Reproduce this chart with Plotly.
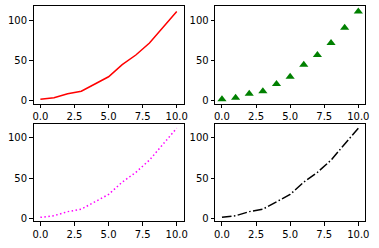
import plotly.graph_objects as go

x = [0, 1, 2, 3, 4, 5, 6, 7, 8, 9, 10]
y = [2, 4, 9, 12, 21, 30, 45, 57, 72, 91, 111]
xticks = [0, 2.5, 5, 7.5, 10]
xticktext = ["0.0", "2.5", "5.0", "7.5", "10.0"]
yticks = [0, 50, 100]
yticktext = ["0", "50", "100"]

fig = go.Figure()
fig.add_trace(go.Scatter(x=x, y=y, mode="lines", line=dict(color="#ff0000", width=1.5), xaxis="x", yaxis="y"))
fig.add_trace(go.Scatter(x=x, y=y, mode="markers", marker=dict(symbol="triangle-up", color="#008000", size=8), xaxis="x2", yaxis="y2"))
fig.add_trace(go.Scatter(x=x, y=y, mode="lines", line=dict(color="#ff00ff", width=1.5, dash="1.5px,2.5px"), xaxis="x3", yaxis="y3"))
fig.add_trace(go.Scatter(x=x, y=y, mode="lines", line=dict(color="#000000", width=1.5, dash="9.6px,2.4px,1.5px,2.4px"), xaxis="x4", yaxis="y4"))

common = dict(showline=True, linecolor="black", linewidth=1, mirror=True, ticks="outside",
              ticklen=3.5, tickwidth=1, tickcolor="black", showgrid=False, zeroline=False,
              tickfont=dict(family="DejaVu Sans", size=10, color="black"))

xcols = [[33/379, 185/379], [217/379, 369/379]]
yrows = [[1-105/248, 1-6/248], [1-224/248, 1-126/248]]
yranges = [[-3.5, 118], [-3.5, 118], [-2.8, 115.5], [-2.8, 115.5]]

layout = {}
for i in range(4):
    r, c = divmod(i, 2)
    sfx = "" if i == 0 else str(i + 1)
    layout["xaxis" + sfx] = dict(common, domain=xcols[c], range=[-0.5, 10.5], tickvals=xticks,
                                 ticktext=xticktext, anchor="y" + sfx)
    layout["yaxis" + sfx] = dict(common, domain=yrows[r], range=yranges[i], tickvals=yticks,
                                 ticktext=yticktext, anchor="x" + sfx)

fig.update_layout(**layout)
fig.update_layout(width=379, height=248, margin=dict(l=0, r=0, t=0, b=0), showlegend=False,
                  plot_bgcolor="white", paper_bgcolor="white")
fig.write_html("out.html")
